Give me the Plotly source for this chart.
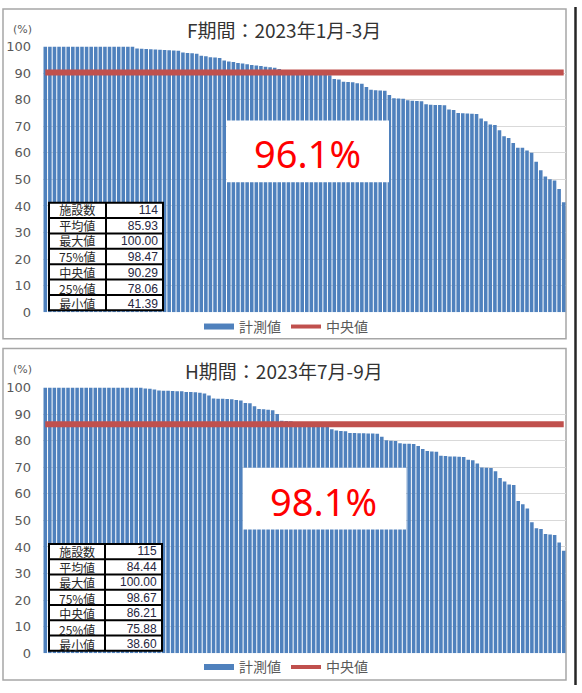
import plotly.graph_objects as go

W, H = 582, 693

# ---------------- data ----------------
f_values = [100.0] * 20 + [
    99.3, 99.2, 99.1, 99.0, 98.9,
    98.8, 98.7, 98.6, 98.5, 98.44,
    97.8, 97.6, 97.5, 97.3,
    96.6, 96.4,
    96.0, 95.9, 95.7,
    94.8,
    94.4, 94.2,
    93.8, 93.6, 93.4,
    93.1, 92.9, 92.7,
    92.4, 92.2, 92.0,
    91.6, 91.2, 90.9, 90.7, 90.5, 90.35,
    90.23,
    90.0, 89.8, 89.6, 89.4, 89.2,
    87.8, 87.6,
    86.8, 86.7, 86.6,
    86.2, 86.0,
    84.8,
    83.8, 83.6, 83.5, 83.4,
    81.8,
    80.6, 80.5, 80.4,
    79.8, 79.6, 79.5, 79.4,
    78.3, 78.12, 78.04, 78.0, 77.9,
    76.3, 76.1,
    75.0, 74.9, 74.8, 74.7, 74.6,
    72.9, 71.9, 70.7, 70.5, 68.5, 66.3, 65.6, 63.7, 61.9, 61.9,
    60.9, 60.0, 56.7, 53.5, 51.1, 50.1, 49.6, 46.4, 41.39,
]

h_values = [100.0] * 22 + [
    99.7, 99.6, 99.3,
    98.9, 98.85, 98.8, 98.7, 98.64, 98.6,
    98.3, 98.3, 98.2, 98.1,
    97.8, 97.0,
    95.9, 95.8, 95.8, 95.7, 95.6,
    95.3, 95.1,
    94.2, 94.1,
    93.0,
    91.9, 91.8, 91.7, 91.5,
    90.1,
    87.5, 87.4, 87.3, 87.0, 86.6,
    86.21,
    86.1, 86.0, 85.8, 85.6, 85.4,
    84.3,
    83.8, 83.7, 83.6,
    82.9, 82.9, 82.8, 82.8, 82.7, 82.7, 82.6,
    81.5,
    80.2, 80.0, 79.9,
    79.0, 78.9, 78.9, 78.8,
    78.0,
    76.9,
    76.1, 75.9, 75.86,
    74.3, 74.2, 74.1, 74.1, 74.0, 73.9,
    72.8, 72.6,
    71.4,
    69.9, 69.8, 69.7, 68.5, 66.0, 64.6, 63.5, 63.3, 57.3, 56.1,
    54.5, 49.3, 47.0, 46.8, 44.9, 44.7, 44.5, 41.7, 38.6,
]

f_median = 90.29
h_median = 86.21

titles = ["F期間：2023年1月-3月", "H期間：2023年7月-9月"]
rates = ["96.1%", "98.1%"]
stat_labels = ["施設数", "平均値", "最大値", "75%値", "中央値", "25%値", "最小値"]
f_stats = ["114", "85.93", "100.00", "98.47", "90.29", "78.06", "41.39"]
h_stats = ["115", "84.44", "100.00", "98.67", "86.21", "75.88", "38.60"]
y_ticks = list(range(0, 101, 10))
legend_names = ["計測値", "中央値"]
unit_label = "(%)"

# ---------------- styling / layout helpers ----------------
BLUE = "#4F81BD"
RED = "#C0504D"
CJK = "Noto Sans CJK JP"


def px(x):
    return x / W


def py(y):
    return 1 - y / H


panels = [
    dict(values=f_values, median=f_median, stats=f_stats, title=titles[0], rate=rates[0],
         dy=0, border=(3, 2, 566, 339), box=(227, 116, 389, 179),
         table=(49, 106, 163, 200, 310), legend_y=327),
    dict(values=h_values, median=h_median, stats=h_stats, title=titles[1], rate=rates[1],
         dy=348.5, border=(3, 349, 566, 688), box=(243, 471, 406, 534),
         table=(49, 105, 162, 549, 658), legend_y=675),
]

PLOT_X0, PLOT_X1 = 43, 566
PLOT_Y0, PLOT_Y1 = 40.5, 312

fig = go.Figure()
shapes = []
annotations = []
layout_axes = {}

for i, p in enumerate(panels):
    k = "" if i == 0 else str(i + 1)
    xa, ya = "x" + k, "y" + k
    leg = "legend" + k
    vals = p["values"]
    n = len(vals)
    xs = list(range(1, n + 1))
    dy = p["dy"]

    fig.add_trace(go.Bar(x=xs, y=vals, marker=dict(color=BLUE, line=dict(width=0)),
                         xaxis=xa, yaxis=ya, showlegend=False, name=legend_names[0]))
    fig.add_trace(go.Scatter(x=xs, y=[p["median"]] * n, mode="lines",
                             line=dict(color=RED, width=6), xaxis=xa, yaxis=ya,
                             showlegend=False, name=legend_names[1]))
    # legend entries
    fig.add_trace(go.Scatter(x=[None], y=[None], mode="lines", line=dict(color=BLUE, width=6),
                             name=legend_names[0], xaxis=xa, yaxis=ya, legend=leg))
    fig.add_trace(go.Scatter(x=[None], y=[None], mode="lines", line=dict(color=RED, width=4),
                             name=legend_names[1], xaxis=xa, yaxis=ya, legend=leg))

    layout_axes["xaxis" + k] = dict(domain=[px(PLOT_X0), px(PLOT_X1)], anchor=ya,
                                    range=[0.5, n + 0.5], showticklabels=False,
                                    showgrid=False, zeroline=False, showline=False,
                                    ticks="")
    layout_axes["yaxis" + k] = dict(domain=[py(PLOT_Y1 + dy), py(PLOT_Y0 + dy)], anchor=xa,
                                    range=[0, 100], tickvals=y_ticks, ticks="",
                                    gridcolor="#D9D9D9", gridwidth=1, zeroline=False,
                                    showline=False, ticklabelstandoff=11,
                                    tickfont=dict(family="DejaVu Sans", size=13, color="#595959"))
    layout_axes[leg] = dict(orientation="h", x=px(286), xanchor="center",
                            y=py(p["legend_y"]), yanchor="middle",
                            font=dict(family=CJK, size=14, color="#595959"),
                            bgcolor="rgba(0,0,0,0)", itemwidth=30, tracegroupgap=0)

    # chart border
    bx0, by0, bx1, by1 = p["border"]
    shapes.append(dict(type="rect", xref="paper", yref="paper",
                       x0=px(bx0), x1=px(bx1), y0=py(by0), y1=py(by1),
                       line=dict(color="#A6A6A6", width=1.5), fillcolor="rgba(0,0,0,0)",
                       layer="below"))

    # title and unit
    annotations.append(dict(text=p["title"], xref="paper", yref="paper",
                            x=px(284), y=py(23.5 + dy), xanchor="center", yanchor="middle",
                            showarrow=False, font=dict(family=CJK, size=19, color="#333333")))
    annotations.append(dict(text=unit_label, xref="paper", yref="paper",
                            x=px(22), y=py(22.5 + dy), xanchor="center", yanchor="middle",
                            showarrow=False, font=dict(family="DejaVu Sans", size=11, color="#595959")))

    # rate box
    rx0, ry0, rx1, ry1 = p["box"]
    shapes.append(dict(type="rect", xref="paper", yref="paper",
                       x0=px(rx0), x1=px(rx1), y0=py(ry0), y1=py(ry1),
                       line=dict(width=0), fillcolor="white", layer="above"))
    annotations.append(dict(text=p["rate"], xref="paper", yref="paper",
                            x=px((rx0 + rx1) / 2 - 1), y=py((ry0 + ry1) / 2 + 2),
                            xanchor="center", yanchor="middle", showarrow=False,
                            font=dict(family="Noto Sans", size=38, color="#FF0000")))

    # stats table
    tx0, tmid, tx1, ty0, ty1 = p["table"]
    rows = len(stat_labels)
    rh = (ty1 - ty0) / rows
    shapes.append(dict(type="rect", xref="paper", yref="paper",
                       x0=px(tx0), x1=px(tx1), y0=py(ty0), y1=py(ty1),
                       line=dict(color="black", width=2), fillcolor="white", layer="above"))
    shapes.append(dict(type="line", xref="paper", yref="paper",
                       x0=px(tmid), x1=px(tmid), y0=py(ty0), y1=py(ty1),
                       line=dict(color="black", width=2), layer="above"))
    for r in range(1, rows):
        yy = ty0 + r * rh
        shapes.append(dict(type="line", xref="paper", yref="paper",
                           x0=px(tx0), x1=px(tx1), y0=py(yy), y1=py(yy),
                           line=dict(color="black", width=2), layer="above"))
    # one multi-line text per column; plotly line spacing = 1.3 * font size
    fs = rh / 1.3
    yc = (ty0 + ty1) / 2 + 0.5
    annotations.append(dict(text="<br>".join(stat_labels), xref="paper", yref="paper",
                            x=px((tx0 + tmid) / 2), y=py(yc), xanchor="center",
                            yanchor="middle", align="center", showarrow=False,
                            font=dict(family=CJK, size=fs, color="#262626")))
    annotations.append(dict(text="<br>".join(p["stats"]), xref="paper", yref="paper",
                            x=px(tx1 - 3), y=py(yc), xanchor="right",
                            yanchor="middle", align="right", showarrow=False,
                            font=dict(family="Liberation Sans", size=fs, color="#262640")))

# outer dark line on the right
shapes.append(dict(type="line", xref="paper", yref="paper",
                   x0=px(575.5), x1=px(575.5), y0=0, y1=1,
                   line=dict(color="#262626", width=2.5), layer="above"))

fig.update_layout(
    width=W, height=H,
    margin=dict(l=0, r=0, t=0, b=0),
    paper_bgcolor="white", plot_bgcolor="white",
    bargap=0.22,
    shapes=shapes,
    annotations=annotations,
    **layout_axes,
)

fig.write_html("out.html",
               config={"displayModeBar": False},
               post_script="document.body.style.margin='0';document.body.style.overflow='hidden';")
